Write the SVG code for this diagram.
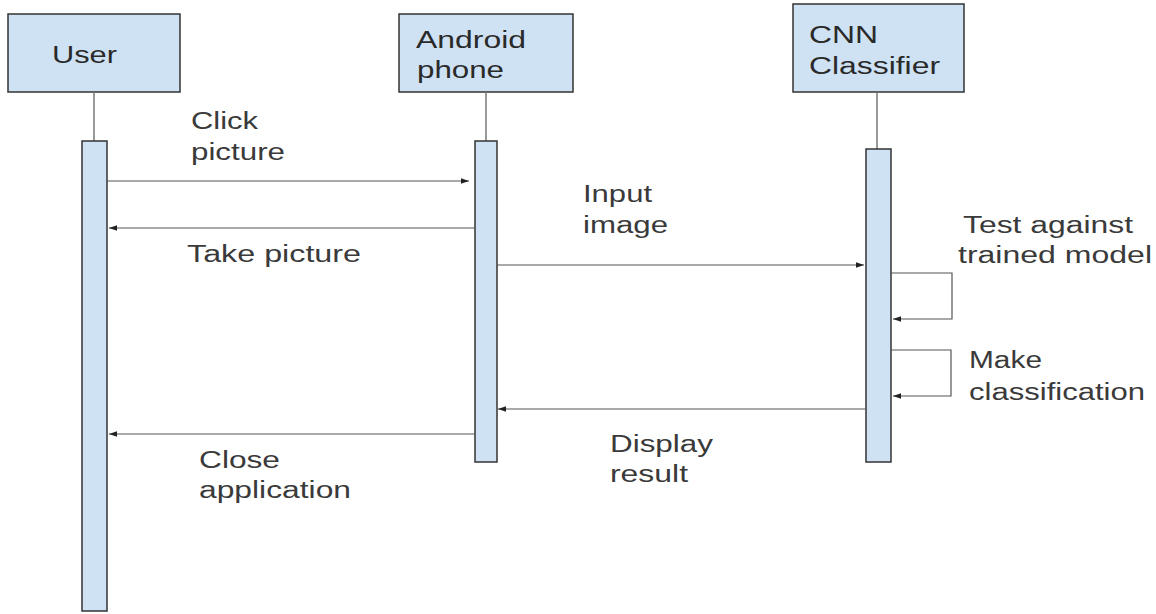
<svg xmlns="http://www.w3.org/2000/svg" width="1156" height="614" viewBox="0 0 1156 614">
<style>
.box{fill:#cfe2f3;stroke:#333;stroke-width:1.5}
.act{fill:#cfe2f3;stroke:#333;stroke-width:1.5}
.life{stroke:#777;stroke-width:1.5;fill:none}
.msg{stroke:#555;stroke-width:1.2;fill:none;marker-end:url(#ah)}
.t{font-family:"Liberation Sans",Arial,sans-serif;font-size:23px;fill:#2a2a2a}
.l{font-family:"Liberation Sans",Arial,sans-serif;font-size:23px;fill:#3a3a3a}
</style>
<defs>
<marker id="ah" viewBox="0 0 10 10" refX="10" refY="5" markerWidth="8" markerHeight="8" markerUnits="userSpaceOnUse" orient="auto">
<path d="M0,1.5 L10,5 L0,8.5 z" fill="#222"/>
</marker>
</defs>
<g id="user">
<rect class="box" x="8" y="14" width="172" height="78"/>
<text class="t" x="52" y="63" textLength="65" lengthAdjust="spacingAndGlyphs">User</text>
<line class="life" x1="94" y1="92" x2="94" y2="141"/>
<rect class="act" x="82" y="141" width="25" height="470"/>
</g>
<g id="android">
<rect class="box" x="399" y="14" width="174" height="78"/>
<text class="t" x="416" y="48" textLength="110" lengthAdjust="spacingAndGlyphs">Android</text>
<text class="t" x="417" y="78" textLength="87" lengthAdjust="spacingAndGlyphs">phone</text>
<line class="life" x1="486" y1="92" x2="486" y2="141"/>
<rect class="act" x="475" y="141" width="22" height="321"/>
</g>
<g id="cnn">
<rect class="box" x="793" y="4" width="171" height="88"/>
<text class="t" x="809" y="43" textLength="69" lengthAdjust="spacingAndGlyphs">CNN</text>
<text class="t" x="809" y="74" textLength="131" lengthAdjust="spacingAndGlyphs">Classifier</text>
<line class="life" x1="877" y1="92" x2="877" y2="149"/>
<rect class="act" x="866" y="149" width="25" height="313"/>
</g>
<g id="connectors">
<line class="msg" x1="107" y1="181" x2="469" y2="181"/>
<line class="msg" x1="475" y1="228" x2="109" y2="228"/>
<line class="msg" x1="497" y1="265" x2="864" y2="265"/>
<path class="msg" d="M891,273 H952 V319 H893"/>
<path class="msg" d="M891,350 H951 V396 H893"/>
<line class="msg" x1="866" y1="409" x2="498" y2="409"/>
<line class="msg" x1="475" y1="434" x2="109" y2="434"/>
</g>
<g id="labels">
<text class="l" x="191" y="129" textLength="67" lengthAdjust="spacingAndGlyphs">Click</text>
<text class="l" x="191" y="160" textLength="94" lengthAdjust="spacingAndGlyphs">picture</text>
<text class="l" x="187" y="262" textLength="174" lengthAdjust="spacingAndGlyphs">Take picture</text>
<text class="l" x="583" y="202" textLength="69" lengthAdjust="spacingAndGlyphs">Input</text>
<text class="l" x="583" y="233" textLength="85" lengthAdjust="spacingAndGlyphs">image</text>
<text class="l" x="963" y="233" textLength="170" lengthAdjust="spacingAndGlyphs">Test against</text>
<text class="l" x="958" y="263" textLength="194" lengthAdjust="spacingAndGlyphs">trained model</text>
<text class="l" x="969" y="368" textLength="73" lengthAdjust="spacingAndGlyphs">Make</text>
<text class="l" x="969" y="400" textLength="176" lengthAdjust="spacingAndGlyphs">classification</text>
<text class="l" x="610" y="452" textLength="103" lengthAdjust="spacingAndGlyphs">Display</text>
<text class="l" x="610" y="482" textLength="78" lengthAdjust="spacingAndGlyphs">result</text>
<text class="l" x="199" y="468" textLength="81" lengthAdjust="spacingAndGlyphs">Close</text>
<text class="l" x="199" y="498" textLength="152" lengthAdjust="spacingAndGlyphs">application</text>
</g>
</svg>
